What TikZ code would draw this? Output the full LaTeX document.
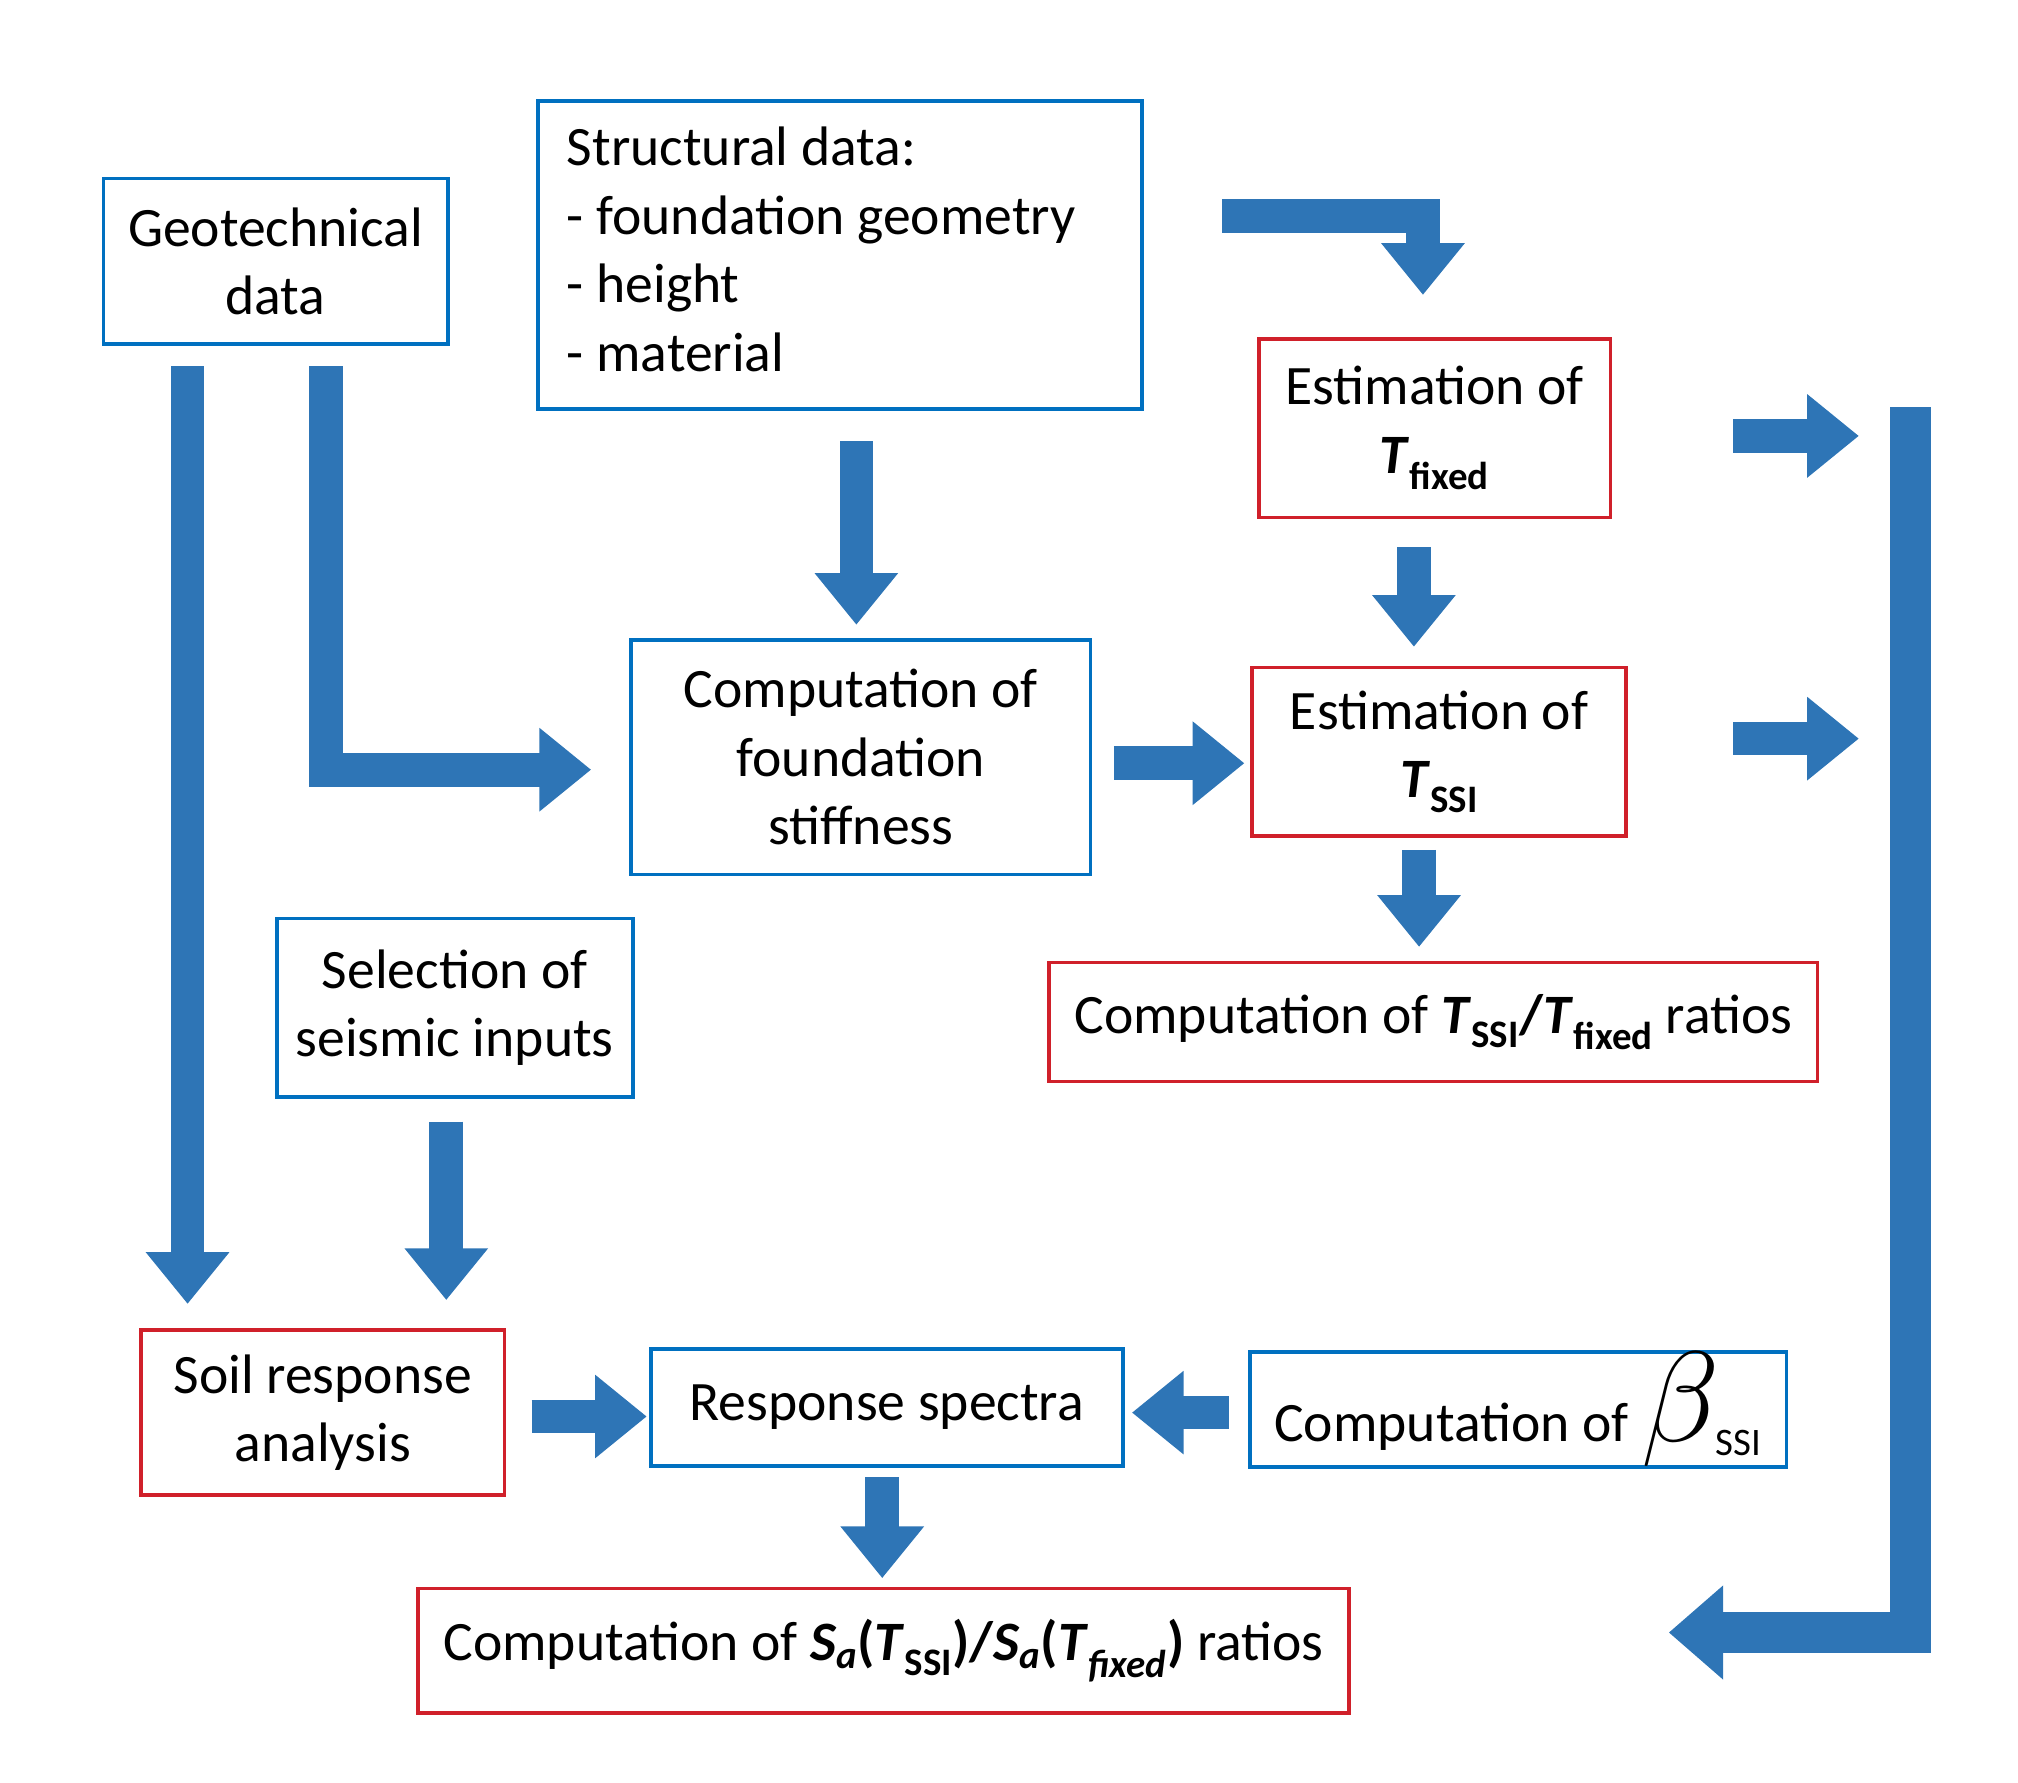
\documentclass[tikz,border=0pt]{standalone}
\usepackage{fontspec}
\setmainfont{Carlito}
\usetikzlibrary{arrows.meta}
\definecolor{bbox}{HTML}{0070C0}
\definecolor{rbox}{HTML}{D0202A}
\definecolor{arr}{HTML}{2E75B6}
\newcommand{\Tb}[1]{\textbf{\textit{T}}\textsubscript{\textbf{#1}}}
\begin{document}
\begin{tikzpicture}[x=1pt,y=-1pt,
  box/.style={draw=#1,line width=3pt,inner sep=0pt,align=center,font=\fontsize{43}{53}\selectfont},
  blk/.style={draw=arr,line width=26pt,line join=miter,-{Triangle[width=62pt,length=40pt]}},
  big/.style={draw=arr,line width=32pt,line join=miter,-{Triangle[width=70pt,length=42pt]}}]
\useasboundingbox (0,0) rectangle (1560,1378);
\node[box=bbox,minimum width=266pt,minimum height=128pt] (geo) at (213,202) {Geotechnical\\data};
\node[box=bbox,minimum width=467pt,minimum height=238pt] (str) at (649.5,197) {};
\node[font=\fontsize{43}{53}\selectfont,align=left,anchor=north west,inner sep=0pt] (strt) at (438,98) {Structural data:\\- foundation geometry\\- height\\- material};
\node[box=rbox,minimum width=272pt,minimum height=138pt] (tf) at (1109,331) {Estimation of\\\Tb{fixed}};
\node[box=bbox,minimum width=355pt,minimum height=181pt] (fs) at (665.5,585.5) {Computation of\\foundation\\stiffness};
\node[box=rbox,minimum width=289pt,minimum height=130pt] (ts) at (1112.5,581) {Estimation of\\\Tb{SSI}};
\node[box=rbox,minimum width=594pt,minimum height=92pt] (rat) at (1108,790) {Computation of \Tb{SSI}\textbf{/}\Tb{fixed} ratios};
\node[box=bbox,minimum width=275pt,minimum height=138pt] (sel) at (351.5,779) {Selection of\\seismic inputs};
\node[box=rbox,minimum width=281pt,minimum height=128pt] (soil) at (249.5,1092) {Soil response\\analysis};
\node[box=bbox,minimum width=365pt,minimum height=90pt] (rs) at (685.5,1088) {Response spectra};
\node[box=bbox,minimum width=415pt,minimum height=89pt] (beta) at (1173.5,1089.5) {Computation of \scalebox{4}{$\beta$}\kern-3pt\textsubscript{SSI}};
\node[box=rbox,minimum width=720pt,minimum height=96pt] (sa) at (683,1276) {Computation of \textbf{\textit{S\textsubscript{a}}(\textit{T}\textsubscript{SSI})/\textit{S\textsubscript{a}}(\textit{T}\textsubscript{\textit{fixed}})} ratios};
% arrows
\draw[blk] (145,283) -- (145,1008);
\draw[blk] (252,283) -- (252,595) -- (457,595);
\draw[blk] (662,341) -- (662,483);
\draw[blk] (945,167) -- (1100,167) -- (1100,228);
\draw[blk] (1093,423) -- (1093,500);
\draw[blk] (861,590) -- (962,590);
\draw[blk] (1097,657) -- (1097,732);
\draw[blk] (1340,337) -- (1437,337);
\draw[blk] (1340,571) -- (1437,571);
\draw[big] (1477,315) -- (1477,1262) -- (1290,1262);
\draw[blk] (345,867) -- (345,1005);
\draw[blk] (411,1095) -- (500,1095);
\draw[blk] (950,1092) -- (875,1092);
\draw[blk] (682,1142) -- (682,1220);
\end{tikzpicture}
\end{document}
